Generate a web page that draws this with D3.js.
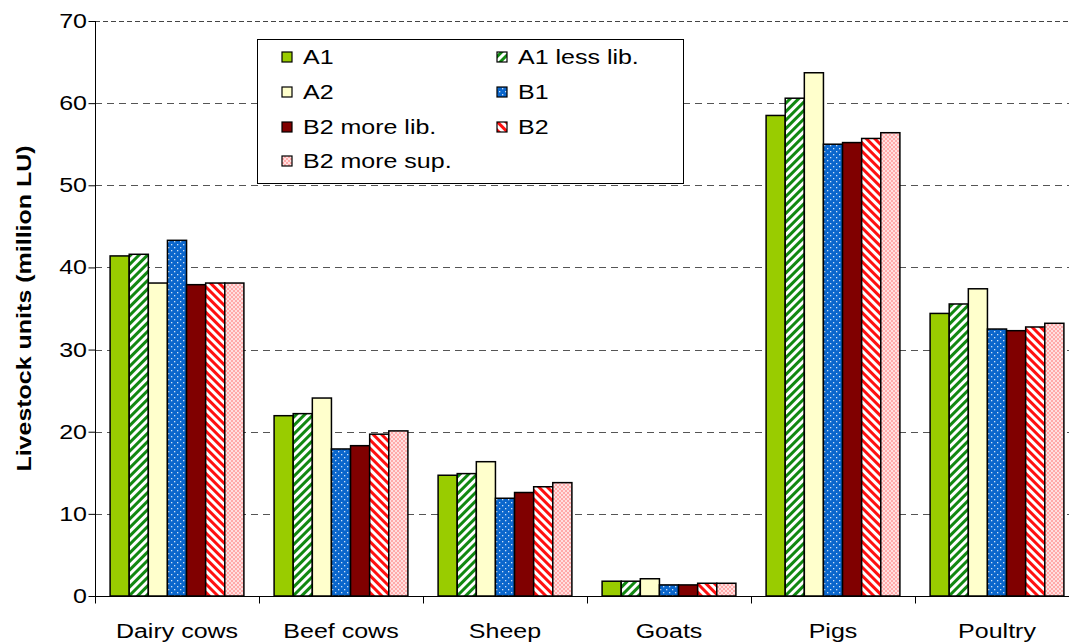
<!DOCTYPE html>
<html>
<head>
<meta charset="utf-8">
<script src="https://cdn.jsdelivr.net/npm/d3@7"></script>
<style>
  body { margin: 0; background: #fff; }
  svg { display: block; font-family: "Liberation Sans", Arial, sans-serif; }
</style>
</head>
<body>
<svg id="chart" width="1069" height="643"></svg>
<script>
// Livestock units per category and scenario (million LU)
const categories = ["Dairy cows", "Beef cows", "Sheep", "Goats", "Pigs", "Poultry"];
const seriesNames = ["A1", "A1 less lib.", "A2", "B1", "B2 more lib.", "B2", "B2 more sup."];
const A1         = [41.4, 21.95, 14.7, 1.8, 58.5, 34.4];
const A1LessLib  = [41.6, 22.2, 14.9, 1.8, 60.6, 35.55];
const A2         = [38.1, 24.1, 16.35, 2.1, 63.7, 37.4];
const B1         = [43.3, 17.9, 11.9, 1.35, 55.0, 32.5];
const B2MoreLib  = [37.9, 18.3, 12.6, 1.35, 55.2, 32.3];
const B2         = [38.1, 19.7, 13.3, 1.55, 55.7, 32.75];
const B2MoreSup  = [38.1, 20.1, 13.8, 1.55, 56.4, 33.2];
const seriesValues = [A1, A1LessLib, A2, B1, B2MoreLib, B2, B2MoreSup];
const yTicks = [0, 10, 20, 30, 40, 50, 60, 70];

const FONT = 20;      // text size
const WIDEN = 1.25;   // horizontal widening of all lettering

const svg = d3.select("#chart");
const defs = svg.append("defs");

// Fill patterns for each scenario
function stripes(id, bg, fg, angle) {
  const p = defs.append("pattern").attr("id", id).attr("patternUnits", "userSpaceOnUse")
    .attr("width", 6).attr("height", 6).attr("patternTransform", `rotate(${angle})`);
  p.append("rect").attr("width", 6).attr("height", 6).attr("fill", bg);
  p.append("rect").attr("width", 3).attr("height", 6).attr("fill", fg);
}
stripes("pA1less", "#ffffff", "#118811", 45);
stripes("pB2", "#ffffff", "#ff1010", -45);

const dots = defs.append("pattern").attr("id", "pB1").attr("patternUnits", "userSpaceOnUse")
  .attr("width", 6).attr("height", 6);
dots.append("rect").attr("width", 6).attr("height", 6).attr("fill", "#0a66cc");
dots.append("rect").attr("x", 1).attr("y", 1).attr("width", 1.3).attr("height", 1.3).attr("fill", "#cfe0f5");
dots.append("rect").attr("x", 4).attr("y", 4).attr("width", 1.3).attr("height", 1.3).attr("fill", "#cfe0f5");

const chk = defs.append("pattern").attr("id", "pB2sup").attr("patternUnits", "userSpaceOnUse")
  .attr("width", 4).attr("height", 4);
chk.append("rect").attr("width", 4).attr("height", 4).attr("fill", "#ffe0e0");
chk.append("rect").attr("x", 0).attr("y", 0).attr("width", 2).attr("height", 2).attr("fill", "#ffaaaa");
chk.append("rect").attr("x", 2).attr("y", 2).attr("width", 2).attr("height", 2).attr("fill", "#ffaaaa");

const fills = ["#99cc00", "url(#pA1less)", "#ffffcc", "url(#pB1)", "#800000", "url(#pB2)", "url(#pB2sup)"];

const margin = { left: 95, top: 21, bottom: 596, right: 1079 };

const x0 = d3.scaleBand().domain(categories).range([margin.left, margin.right]).paddingInner(0).paddingOuter(0);
const x1 = d3.scaleBand().domain(seriesNames).range([0, x0.bandwidth()]).paddingInner(0).paddingOuter(0.79);
const y = d3.scaleLinear().domain([0, 70]).range([margin.bottom, margin.top]);

// Widened text placed at (tx, ty)
function label(parent, tx, ty, str, anchor, extra) {
  const t = parent.append("text")
    .attr("transform", `translate(${tx},${ty}) ${extra || ""} scale(${WIDEN},1)`)
    .attr("text-anchor", anchor || "start")
    .attr("font-size", FONT)
    .attr("fill", "#000")
    .text(str);
  return t;
}

// Dashed gridlines
svg.append("g").selectAll("line").data(yTicks.filter(d => d > 0)).join("line")
  .attr("x1", margin.left).attr("x2", margin.right)
  .attr("y1", d => Math.round(y(d)) + 0.5).attr("y2", d => Math.round(y(d)) + 0.5)
  .attr("stroke", d => d === 70 ? "#444" : "#555")
  .attr("stroke-width", 1)
  .attr("stroke-dasharray", d => d === 70 ? "5,3" : "7,5");

// Bars
const groups = svg.append("g").selectAll("g").data(categories).join("g")
  .attr("transform", c => `translate(${x0(c)},0)`);
groups.selectAll("rect").data((c, i) => seriesNames.map((s, j) => ({ s, j, v: seriesValues[j][i] })))
  .join("rect")
  .attr("x", d => x1(d.s))
  .attr("width", x1.bandwidth())
  .attr("y", d => y(d.v))
  .attr("height", d => y(0) - y(d.v))
  .attr("fill", d => fills[d.j])
  .attr("stroke", "#000")
  .attr("stroke-width", 1.5);

// Y axis: line and ticks from the axis generator, labels widened
const yAxis = svg.append("g").attr("transform", `translate(${margin.left + 0.5},0)`)
  .call(d3.axisLeft(y).tickValues(yTicks).tickSize(7).tickFormat(""));
yAxis.select(".domain").attr("stroke", "#000").attr("d", `M0,${margin.top}V${margin.bottom}`);
yAxis.selectAll(".tick line").attr("stroke", "#000");
const yLabels = svg.append("g");
yTicks.forEach(v => label(yLabels, 87, y(v) + 7, String(v), "end"));

// X axis with ticks at category boundaries
const xAxisG = svg.append("g").attr("transform", `translate(0,${margin.bottom + 0.5})`);
xAxisG.append("line").attr("x1", margin.left).attr("x2", margin.right).attr("stroke", "#000");
const bounds = categories.map(c => x0(c)).concat([x0(categories[categories.length - 1]) + x0.bandwidth()]);
xAxisG.selectAll("line.tk").data(bounds).join("line").attr("class", "tk")
  .attr("x1", d => Math.round(d) + 0.5).attr("x2", d => Math.round(d) + 0.5)
  .attr("y1", 0).attr("y2", 7).attr("stroke", "#000");
categories.forEach(c => label(xAxisG, x0(c) + x0.bandwidth() / 2, 41, c, "middle"));

// Y axis title
label(svg, 31, (margin.top + margin.bottom) / 2, "Livestock units (million LU)", "middle", "rotate(-90)")
  .attr("font-weight", "bold");

// Legend
const legend = svg.append("g");
legend.append("rect").attr("x", 257.5).attr("y", 39.5).attr("width", 426).attr("height", 144)
  .attr("fill", "#fff").attr("stroke", "#000").attr("stroke-width", 1);
const legendPos = [
  [282, 57], [497, 57],
  [282, 92], [497, 92],
  [282, 127], [497, 127],
  [282, 161]
];
seriesNames.forEach((s, j) => {
  const [lx, ly] = legendPos[j];
  legend.append("rect").attr("x", lx).attr("y", ly - 5).attr("width", 10).attr("height", 10)
    .attr("fill", fills[j]).attr("stroke", "#000").attr("stroke-width", 1.2);
  label(legend, lx + 21, ly + 7, s, "start");
});
</script>
</body>
</html>
